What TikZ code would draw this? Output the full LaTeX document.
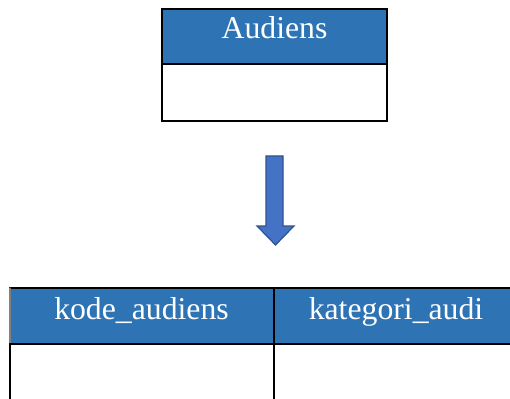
\documentclass[tikz,border=0pt]{standalone}
\usepackage{fontspec}
\setmainfont{Liberation Serif}
\usetikzlibrary{arrows}
\definecolor{hdrblue}{HTML}{2E74B5}
\definecolor{arrblue}{HTML}{4472C4}
\definecolor{arredge}{HTML}{2F528F}

\begin{document}
\begin{tikzpicture}[line cap=round,line join=round,x=0.75pt,y=-0.75pt,
  kolom/.style={anchor=base,text=white,font=\fontsize{23.8}{28}\selectfont},
  garis/.style={line width=2.2pt,line cap=rect,line join=miter}]
\useasboundingbox (0,0) rectangle (510,399);
% tabel Audiens
\fill[hdrblue] (162,9) rectangle (387,64);
\draw[garis] (162,9) rectangle (387,121);
\draw[garis] (162,64)-- (387,64);
\node[kolom] (audiens) at (274.5,39) {Audiens};
% panah ke bawah
\draw[fill=arrblue,draw=arredge,line width=0.9pt,line join=miter] (266,156)-- (283,156)-- (283,226)-- (294,226)-- (275.5,245)-- (257,226)-- (266,226)-- cycle;
% tabel hasil
\fill[hdrblue] (10,288) rectangle (515,344);
\draw[garis] (10,288)-- (515,288);
\draw[garis] (10,344)-- (515,344);
\draw[gray,line width=0.8pt] (10,288)-- (10,344);
\draw[black,line width=0.9pt] (274,288)-- (274,344);
\draw[garis] (10,344)-- (10,405);
\draw[garis] (274,344)-- (274,405);
\node[kolom] (kode) at (141.5,319) {kode\_audiens};
\node[kolom] (kategori) at (396,319) {kategori\_audi};
\end{tikzpicture}
\end{document}
